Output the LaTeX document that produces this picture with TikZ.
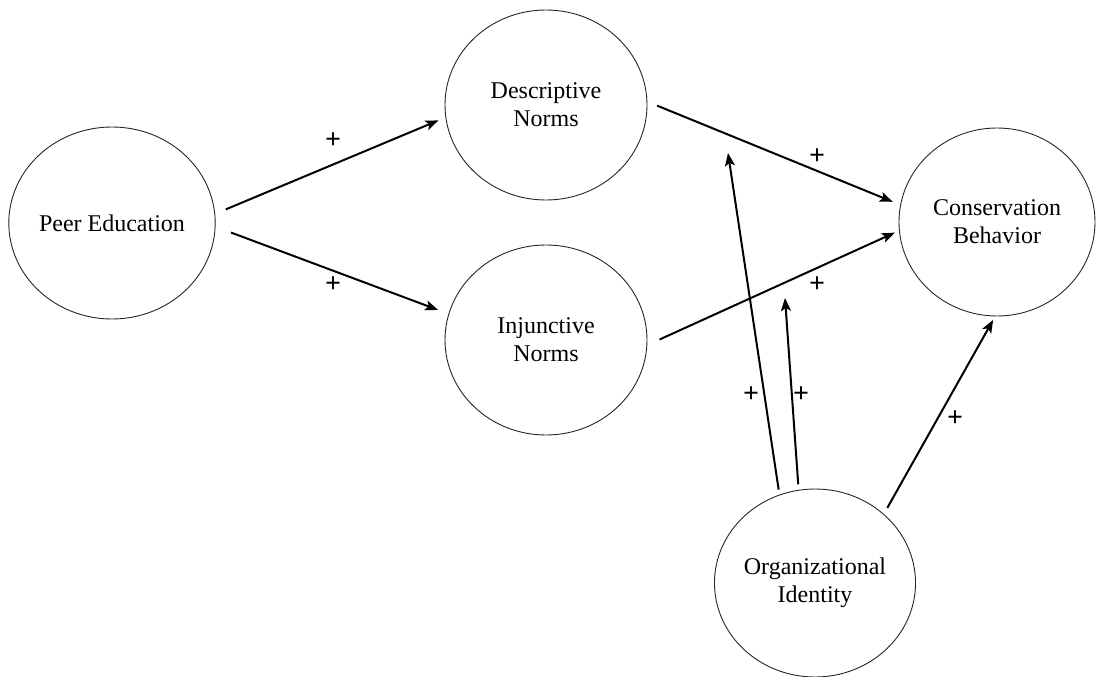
\documentclass[tikz,border=0pt]{standalone}
\usepackage{fontspec}
\setmainfont{Liberation Serif}
\usetikzlibrary{shapes.geometric,arrows.meta}
\begin{document}
\begin{tikzpicture}[x=1pt,y=-1pt,
  construct/.style={ellipse,draw=black!85,line width=0.9pt,inner sep=0pt,outer sep=0pt,
    minimum width=202pt,minimum height=190pt,align=center,
    font=\fontsize{24}{28}\selectfont},
  link/.style={line width=2pt,-{Stealth[length=13pt,width=10pt,inset=3pt]}},
  sign/.style={font=\fontsize{28}{30}\selectfont\bfseries,inner sep=0pt}]
\useasboundingbox (0,0) rectangle (1096,677);
\node[construct,minimum height=192pt] (peer) at (112,223) {Peer Education};
\node[construct] (desc) at (546,105) {Descriptive\\Norms};
\node[construct] (inj) at (546,340) {Injunctive\\Norms};
\node[construct,minimum width=196pt,minimum height=188pt] (cons) at (997,222) {Conservation\\Behavior};
\node[construct,minimum width=200pt,minimum height=188pt] (org) at (815,583) {Organizational\\Identity};
\coordinate (m1) at (728,153);
\coordinate (m2) at (785,298);
\draw[link,shorten <=12pt,shorten >=8pt] (peer.5) -- (desc.187);
\draw[link,shorten <=17pt,shorten >=11.5pt] (peer.-2) -- (inj.165);
\draw[link,shorten <=11pt,shorten >=8.5pt] (desc.2) -- (cons.170);
\draw[link,shorten <=14pt,shorten >=5pt] (inj.-3) -- (cons.185);
\draw[link,shorten <=5.5pt] (org.112) -- (m1);
\draw[link,shorten <=6pt] (org.100) -- (m2);
\draw[link,shorten <=7.4pt,shorten >=4.5pt] (org.45) -- (cons.269);
\node[sign] (s1) at (333,141) {+};
\node[sign] (s2) at (333,285) {+};
\node[sign] (s3) at (817,157) {+};
\node[sign] (s4) at (817,285) {+};
\node[sign] (s5) at (751,395) {+};
\node[sign] (s6) at (801,395) {+};
\node[sign] (s7) at (955,419) {+};
\end{tikzpicture}
\end{document}
